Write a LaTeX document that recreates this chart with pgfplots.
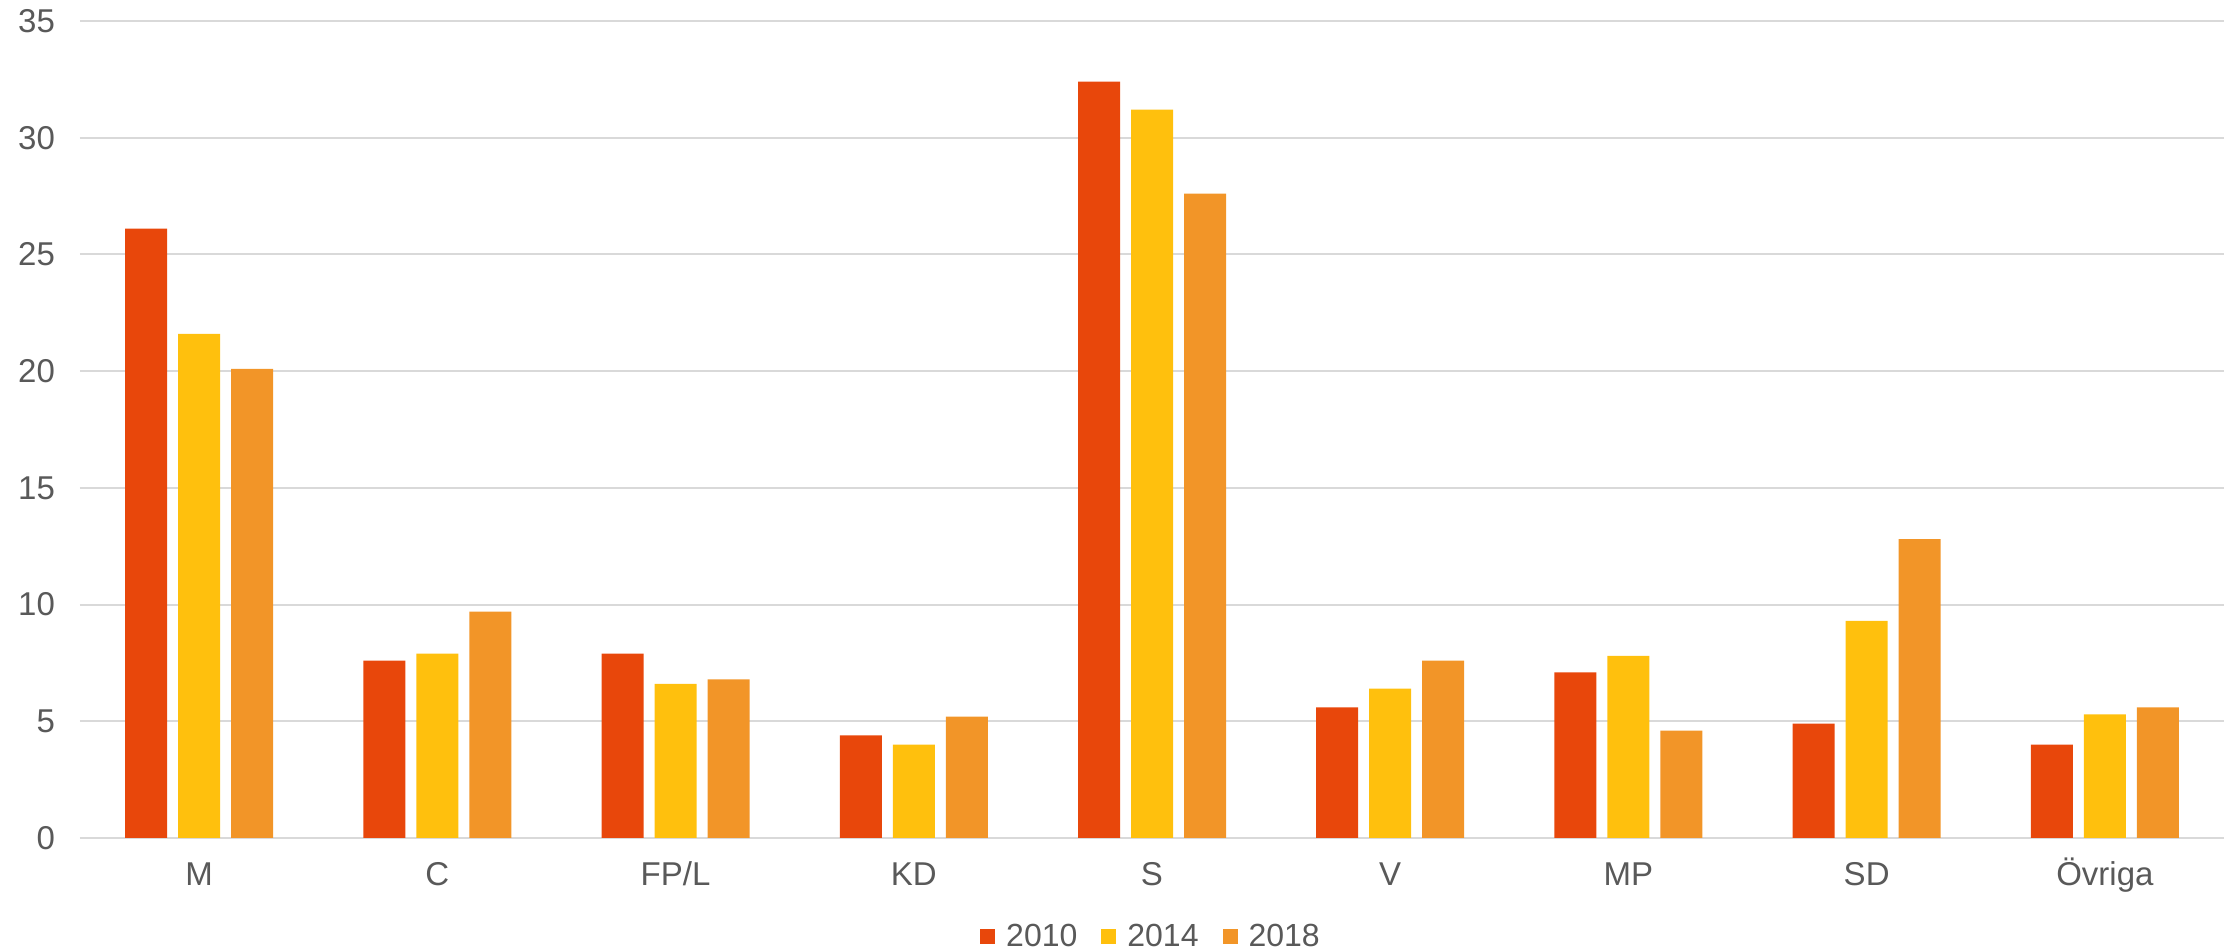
\documentclass[border=0pt]{standalone}
\usepackage{pgfplots}
\pgfplotsset{compat=1.18}
\usepackage{fontspec}
\setmainfont{Liberation Sans}
\definecolor{cA}{HTML}{E8470B}
\definecolor{cB}{HTML}{FFC00D}
\definecolor{cC}{HTML}{F29528}
\definecolor{txt}{HTML}{595959}
\definecolor{grd}{HTML}{D9D9D9}
\begin{document}
\begin{tikzpicture}
\path[use as bounding box] (-40pt,-56.5pt) rectangle (1079.5pt,419pt);
\begin{axis}[
  at={(0,0)}, anchor=south west,
  scale only axis, width=1072pt, height=408.5pt,
  ybar=5.5pt, bar width=21pt,
  xmin=-0.5, xmax=8.5, ymin=0, ymax=35,
  xtick={0,...,8},
  xticklabels={M,C,FP/L,KD,S,V,MP,SD,Övriga},
  ytick={0,5,...,35},
  ymajorgrids, grid style={grd, line width=1pt},
  axis x line*=bottom, axis y line*=left,
  x axis line style={grd, line width=1pt, -},
  y axis line style={draw=none},
  major tick length=0pt,
  tick label style={font=\fontsize{16.5}{19}\selectfont, text=txt},
  /pgf/number format/assume math mode=true,
  xticklabel style={anchor=base, yshift=-24pt},
  yticklabel style={xshift=-9pt},
  legend style={draw=none, at={(0.5,-0.121)}, anchor=center, legend columns=-1,
    font=\fontsize{16}{19}\selectfont, text=txt,
    /tikz/every even column/.append style={column sep=10pt},
    /tikz/every odd column/.append style={column sep=3.5pt}},
  legend image code/.code={\fill[#1] (0pt,-3.75pt) rectangle (7.5pt,3.75pt);},
]
\addplot[fill=cA, draw=none] coordinates {(0,26.1) (1,7.6) (2,7.9) (3,4.4) (4,32.4) (5,5.6) (6,7.1) (7,4.9) (8,4.0)};
\addplot[fill=cB, draw=none] coordinates {(0,21.6) (1,7.9) (2,6.6) (3,4.0) (4,31.2) (5,6.4) (6,7.8) (7,9.3) (8,5.3)};
\addplot[fill=cC, draw=none] coordinates {(0,20.1) (1,9.7) (2,6.8) (3,5.2) (4,27.6) (5,7.6) (6,4.6) (7,12.8) (8,5.6)};
\legend{2010,2014,2018}
\end{axis}
\end{tikzpicture}
\end{document}
